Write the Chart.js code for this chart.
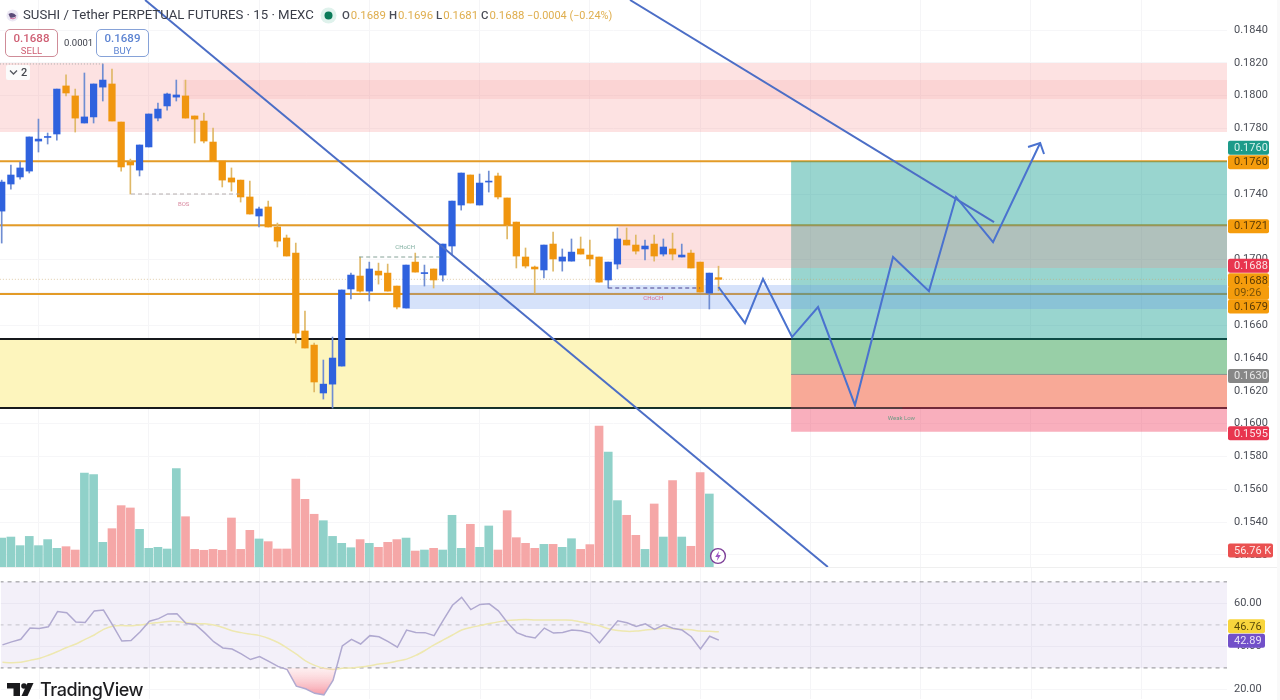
<!DOCTYPE html>
<html>
<head>
<meta charset="utf-8">
<title>SUSHI / Tether PERPETUAL FUTURES</title>
<script src="https://cdn.jsdelivr.net/npm/chart.js@4/dist/chart.umd.js"></script>
<style>
  html, body { margin: 0; padding: 0; background: #fff; }
  #stage { position: relative; width: 1280px; height: 700px; overflow: hidden; font-family: Roboto, sans-serif; }
  canvas { position: absolute; left: 0; }
  .abs { position: absolute; white-space: nowrap; }
  #title { left: 23px; top: 7px; font-size: 13.2px; line-height: 16px; color: #3a3d48; }
  .ohlc { top: 8px; font-size: 11.4px; line-height: 15px; color: #dfae4e; }
  .ohlc b { font-weight: 500; color: #4a4d58; margin-right: 1px; }
  .trade { top: 29px; height: 26px; width: 51px; border-radius: 5px; background: #fff; text-align: center; border: 1px solid; }
  .trade div:first-child { font-size: 11.5px; line-height: 14px; font-weight: 500; margin-top: 1px; }
  .trade div:last-child { font-size: 9.5px; line-height: 11px; }
  #sep { left: 0; top: 567px; width: 1280px; height: 1px; background: #efefef; }
  #edge { left: 1277px; top: 0; width: 3px; height: 700px; background: #f9f9f9; }
</style>
</head>
<body>
<div id="stage">
  <canvas id="priceChart" width="1280" height="567" style="top:0"></canvas>
  <canvas id="rsiChart" width="1280" height="133" style="top:567px"></canvas>
  <div class="abs" id="sep"></div>
  <div class="abs" id="edge"></div>

  <svg class="abs" style="left:5px;top:8px" width="15" height="15" viewBox="0 0 15 15">
    <circle cx="7.5" cy="7.5" r="6" fill="#ece8f4"/>
    <path d="M3.5 6 Q8 3 11.5 8 Q8 10.5 5 9.5 Z" fill="#5b4a78"/>
    <path d="M5 10 Q8 12 11 9.5" stroke="#d06a9c" fill="none"/>
  </svg>
  <div class="abs" id="title">SUSHI / Tether PERPETUAL FUTURES · 15 · MEXC</div>
  <svg class="abs" style="left:320px;top:7px" width="17" height="17">
    <circle cx="8.5" cy="8.5" r="8" fill="#dff2ec"/>
    <circle cx="8.5" cy="8.5" r="4" fill="#0b7a58"/>
  </svg>
  <div class="abs ohlc" style="left:342px"><b>O</b>0.1689</div>
  <div class="abs ohlc" style="left:389px"><b>H</b>0.1696</div>
  <div class="abs ohlc" style="left:436px"><b>L</b>0.1681</div>
  <div class="abs ohlc" style="left:481px"><b>C</b>0.1688</div>
  <div class="abs ohlc" style="left:527px;font-size:10.9px">−0.0004 (−0.24%)</div>

  <div class="abs trade" style="left:5px;border-color:#cf8c98;color:#cf5f74"><div>0.1688</div><div>SELL</div></div>
  <div class="abs" style="left:64px;top:37px;font-size:9.5px;line-height:12px;color:#3a3d48">0.0001</div>
  <div class="abs trade" style="left:96px;border-color:#86a2d8;color:#5d84d2"><div>0.1689</div><div>BUY</div></div>

  <div class="abs" style="left:6px;top:65px;width:24px;height:15px;background:#fbfbfb;border-radius:2px"></div>
  <svg class="abs" style="left:9px;top:69px" width="9" height="7"><path d="M1 1.5 L4.5 5 L8 1.5" stroke="#55585f" stroke-width="1.3" fill="none"/></svg>
  <div class="abs" style="left:21px;top:65px;font-size:11px;line-height:15px;font-weight:500;color:#44474e">2</div>

  <svg class="abs" style="left:709px;top:547px" width="18" height="18" viewBox="0 0 18 18">
    <circle cx="9" cy="9" r="7.4" fill="#fff" stroke="#7d3f98" stroke-width="1.4"/>
    <path d="M10 4 L6.2 10 H8.8 L7.8 14 L11.8 8 H9.2 Z" fill="#9b54c4"/>
  </svg>

  <svg class="abs" style="left:7px;top:683px" width="27" height="14" viewBox="0 0 27 14">
    <path d="M0 0 H13 V13 H6.5 V5.5 H0 Z" fill="#1a1a1d"/>
    <circle cx="17" cy="3" r="2.8" fill="#1a1a1d"/>
    <path d="M20.5 0 H26.5 L20.5 13 H14.5 Z" fill="#1a1a1d"/>
  </svg>
  <div class="abs" style="left:40px;top:679px;font-size:18px;line-height:22px;font-weight:500;color:#1d1d20;font-family:Inter,Roboto,sans-serif;letter-spacing:-0.45px">TradingView</div>
</div>

<script>
// Fifteen-minute candles, oldest first.
const opens = [
  .17296,.17461,.17504,.17540,.17723,.17745,.17766,.18059,.17998,.17833,
  .17870,.18052,.18071,.17839,.17595,.17546,.17687,.17863,.17937,.17991,
  .17998,.17876,.17845,.17717,.17601,.17498,.17485,.17382,.17266,.17321,
  .17199,.17132,.17040,.16565,.16479,.16187,.16241,.16351,.16821,.16900,
  .16808,.16930,.16918,.16839,.16705,.16985,.16915,.16943,.16906,.17083,
  .17333,.17516,.17333,.17473,.17510,.17376,.17229,.17016,.16955,.16937,
  .17095,.16991,.16991,.17065,.17028,.17016,.16876,.16973,.17119,.17089,
  .17065,.17095,.17034,.17065,.17016,.17040,.16985,.16796,.1689];
const closes = [
  .17473,.17516,.17559,.17748,.17735,.17751,.18040,.18016,.17863,.17870,
  .18071,.18095,.17845,.17565,.17577,.17699,.17888,.17918,.18010,.18004,
  .17863,.17857,.17723,.17601,.17485,.17473,.17382,.17278,.17309,.17199,
  .17113,.17022,.16552,.16461,.16254,.16241,.16400,.16815,.16906,.16808,
  .16943,.16906,.16808,.16711,.16967,.16924,.16921,.16876,.17095,.17357,
  .17528,.17345,.17467,.17479,.17382,.17211,.17022,.16961,.16943,.17089,
  .17004,.17016,.17046,.17034,.17004,.16863,.16985,.17126,.17089,.17052,
  .17083,.17022,.17077,.17034,.17028,.16949,.16802,.16918,.1688];
const highs = [
  .17485,.17577,.17595,.17748,.17857,.17772,.18040,.18126,.18040,.18138,
  .18071,.18193,.18162,.17839,.17613,.17699,.17888,.17955,.18016,.18095,
  .18095,.17876,.17894,.17802,.17601,.17559,.17485,.17479,.17321,.17357,
  .17223,.17150,.17101,.16687,.16491,.16388,.16528,.16815,.16918,.17016,
  .16985,.16979,.16973,.16839,.16967,.17040,.16967,.16943,.17095,.17357,
  .17528,.17516,.17522,.17540,.17528,.17376,.17229,.17071,.16961,.17089,
  .17168,.17065,.17126,.17138,.17119,.17016,.16985,.17193,.17193,.17150,
  .17119,.17150,.17126,.17162,.17095,.17058,.16985,.16918,.1696];
const lows = [
  .17101,.17430,.17491,.17528,.17656,.17705,.17729,.17998,.17778,.17833,
  .17833,.17967,.17845,.17540,.17400,.17510,.17687,.17845,.17912,.17967,
  .17863,.17711,.17711,.17601,.17443,.17418,.17351,.17278,.17199,.17199,
  .17077,.17022,.16491,.16461,.16193,.16150,.16095,.16351,.16760,.16802,
  .16748,.16851,.16808,.16699,.16705,.16924,.16839,.16827,.16869,.17028,
  .17302,.17345,.17333,.17412,.17370,.17126,.16949,.16949,.16796,.16888,
  .16930,.16930,.16991,.17034,.16961,.16863,.16827,.16943,.17089,.17034,
  .16998,.16991,.17022,.16998,.17016,.16949,.16802,.16699,.1681];

// Volume per candle, in thousands.
const volumes = [
  22.5,23.3,16.6,23.8,16.6,21.3,14.5,15.8,13.2,73.1,
  71.8,19.2,29.8,47.7,45.9,29.3,14.5,15.3,14.0,76.5,
  39.1,13.7,13.0,13.7,13.0,38.1,13.7,28.5,21.8,19.7,
  14.0,14.0,68.4,52.6,41.0,36.0,23.8,18.4,15.0,21.3,
  18.4,15.3,19.2,21.3,22.5,12.4,13.2,14.5,13.2,40.2,
  14.5,33.2,15.3,31.9,13.2,43.8,22.8,18.4,14.5,17.6,
  17.6,15.3,22.0,13.7,17.4,109.6,89.4,51.6,40.2,24.6,
  13.7,49.0,23.3,67.1,23.3,16.1,73.4,56.76,null];

// RSI and its moving average.
const rsiValues = [
  40.7,42.1,43.3,48.5,48.3,49.1,56.2,55.6,51.3,51.1,
  56.5,56.9,49.9,42.5,42.7,46.8,51.7,52.9,55.1,55.2,
  50.6,50.2,46.4,42.2,39.3,38.8,36.5,33.9,35.3,33.0,
  30.7,29.2,21.5,20.3,18.2,17.5,24.3,40.2,43.3,41.1,
  45.0,44.5,42.2,39.6,47.6,46.5,46.4,45.0,52.2,59.1,
  62.8,57.1,59.5,59.8,56.5,51.0,46.4,44.7,43.9,48.5,
  46.2,46.5,47.6,47.3,46.2,41.6,46.8,51.9,51.0,49.3,
  50.5,47.9,50.0,48.4,47.6,44.5,38.8,44.7,42.89];
const rsiAverage = [
  32.6,32.4,32.6,33.5,34.4,35.9,37.6,39.5,41.1,43.3,
  45.3,47.9,49.4,49.7,49.6,50.0,50.6,51.1,51.6,51.6,
  51.1,50.6,50.5,49.9,48.8,47.3,46.4,45.7,45.0,43.7,
  41.8,39.2,36.4,33.3,31.2,29.8,29.3,29.8,30.0,30.4,
  31.0,31.8,32.3,33.2,34.1,35.8,38.1,40.7,43.0,45.3,
  47.6,48.8,49.7,50.6,51.4,52.0,52.3,52.5,52.3,52.3,
  52.3,52.3,52.2,51.3,50.5,49.6,48.2,47.4,47.0,47.1,
  47.6,48.0,48.4,48.2,48.0,47.7,47.1,47.0,46.76];

const priceTicks = [.184,.182,.18,.178,.176,.174,.172,.17,.168,.166,.164,.162,.16,.158,.156,.154,.152];
const rsiTicks = [60,40,20];
const timeGrid = [4,16,28,40,52,64,76,88,100,112,124];

// Horizontal levels, in price.
const resistanceLevels = [.1760,.1721,.1679];
const zoneLevels = [.16516,.16095];
const lastPrice = .1688;

// Supply and demand zones: [from bar, top price, bottom price].
const supplyZone = [-0.2,.18199,.17778];
const supplyCore = [19.7,.18095,.17979];
const orderBlock = [67.1,.1721,.16949];
const demandZone = [43.9,.16845,.16699];
const discountZone = [-0.2,.16516,.16095];

// Long position tool: bar where it starts, target, entry, stop.
const positionStart = 85.9;
const targetPrice = .1760, entryPrice = .1630, stopPrice = .1595;

// Trend lines and the projected route: [bar, price] pairs.
const fallingLineA = [[15.6,.18583],[89.9,.15126]];
const fallingLineB = [[68.37,.18583],[107.98,.17229]];
const projectedPath = [[78,.16833],[80.88,.16613],[82.84,.16882],[86,.16528],[88.83,.16711],
  [92.85,.16113],[96.99,.17016],[100.9,.16808],[103.84,.17382],[107.87,.17107],[113,.17711]];
const pathArrow = [[111.68,.17687],[113,.17711],[113.42,.17644]];

// Market structure breaks: [from bar, to bar, price].
const bosBreak = [14.07,25.9,.17400];
const chochUp = [38.9,48,.17016];
const chochDown = [66,76,.16827];
const sweptHigh = [-0.2,11,.18193];
const weakLowLine = [36,98,.16095];

const noteTexts = ['BOS','CHoCH','CHoCH','Weak Low'];
const noteBars = [19.8,43.9,70.9,97.9];
const notePrices = [.17339,.17077,.16766,.16034];

// Axis tags on the price pane.
const priceTagTexts = ['0.1760','0.1760','0.1721','0.1688','0.1688','09:26','0.1679','0.1630','0.1595'];
const priceTagValues = [.1760,.1760,.1721,.1688,.1688,.1688,.1679,.1630,.1595];
const volumeTagText = '56.76 K';
const volumeTagValue = 56.76;
const rsiTagTexts = ['46.76','42.89'];
const rsiTagValues = [46.76,42.89];

const X_MIN = -0.185, X_MAX = 133.33;
const AXIS_FONT = { family: 'Roboto, sans-serif', size: 11 };
const BLUE = '#2f62de', ORANGE = '#f0960f', TEAL_VOL = '#90d1c9', RED_VOL = '#f5a7a7';

const isUp = i => closes[i] >= opens[i];
const pairs = list => list.map(([x, y]) => ({ x, y }));

// Datasets are listed bottom to top; the negative order keeps that stacking.
function layered(list) {
  list.forEach((d, i) => { d.order = -i; });
  return list;
}
function band([from, top, bottom], color, to = X_MAX + 1) {
  return { type: 'line', data: [{ x: from, y: top }, { x: to, y: top }], fill: { value: bottom },
           backgroundColor: color, borderWidth: 0, pointRadius: 0, yAxisID: 'y' };
}
function line(points, color, width, dash) {
  return { type: 'line', data: points, borderColor: color, borderWidth: width, borderDash: dash || [],
           pointRadius: 0, tension: 0, fill: false, yAxisID: 'y' };
}
function level(price, color, width, dash, from = -0.2) {
  return line([{ x: from, y: price }, { x: X_MAX + 1, y: price }], color, width, dash);
}
function segment([from, to, price], color, width, dash) {
  return line([{ x: from, y: price }, { x: to, y: price }], color, width, dash);
}
function xScale() {
  return {
    type: 'linear', min: X_MIN, max: X_MAX, offset: false,
    afterBuildTicks: s => { s.ticks = timeGrid.map(value => ({ value })); },
    ticks: { display: false, autoSkip: false },
    grid: { color: '#f5f5f7', drawTicks: false, offset: false }, border: { display: false }
  };
}
function rightAxis(min, max, values, format) {
  return {
    position: 'right', min, max,
    afterBuildTicks: s => { s.ticks = values.map(value => ({ value })); },
    // The plot runs to the top and bottom edges of its canvas; labels keep no extra margin.
    afterFit: s => { s.width = 53; s.paddingTop = 0; s.paddingBottom = 0; },
    ticks: { callback: format, font: AXIS_FONT, color: '#4b4e57', padding: 7, autoSkip: false, maxRotation: 0 },
    grid: { color: '#f6f6f8', drawTicks: false }, border: { display: false }
  };
}
function drawTag(chart, text, y, width, fill, ink) {
  const c = chart.ctx, left = chart.chartArea.right + 1;
  c.save();
  c.fillStyle = fill;
  c.beginPath();
  c.roundRect(left, y - 7, width, 14, 2);
  c.fill();
  c.fillStyle = ink;
  c.font = '11px Roboto, sans-serif';
  c.textAlign = 'left';
  c.textBaseline = 'middle';
  c.fillText(text, left + 6, y + 0.5);
  c.restore();
}

const priceAnnotations = {
  id: 'priceAnnotations',
  afterDraw(chart) {
    const y = chart.scales.y, x = chart.scales.x, c = chart.ctx;
    c.save();
    c.font = '6px Roboto, sans-serif';
    c.textAlign = 'center';
    c.textBaseline = 'middle';
    const noteInks = ['#d98aa0','#7fae9f','#d76f98','#6f9a85'];
    noteTexts.forEach((t, i) => {
      c.fillStyle = noteInks[i];
      c.fillText(t, x.getPixelForValue(noteBars[i]), y.getPixelForValue(notePrices[i]));
    });
    c.restore();

    // Colour and offset of each tag; close prices stack instead of overlapping.
    const looks = [['#1d9b8a','#d8f3ee',-13.5],['#f59c0c','#5a3a04',1],['#f59c0c','#5a3a04',1],
                   ['#e8354f','#fbe3e6',-13.5],['#f59c0c','#5a3a04',1],['#f59c0c','#7a5208',13.5],
                   ['#f59c0c','#5a3a04',12.5],['#878787','#e8e8e8',1.5],['#e8354f','#fbe3e6',1.5]];
    priceTagTexts.forEach((t, i) => {
      const [fill, ink, shift] = looks[i];
      drawTag(chart, t, y.getPixelForValue(priceTagValues[i]) + shift, 41, fill, ink);
    });
    drawTag(chart, volumeTagText, chart.scales.vol.getPixelForValue(volumeTagValue) + 56.5, 45, '#ea5050', '#fde8e8');
  }
};

const rsiAnnotations = {
  id: 'rsiAnnotations',
  afterDraw(chart) {
    const y = chart.scales.y;
    drawTag(chart, rsiTagTexts[0], y.getPixelForValue(rsiTagValues[0]) - 5.5, 37, '#f8d53c', '#5a4a08');
    drawTag(chart, rsiTagTexts[1], y.getPixelForValue(rsiTagValues[1]) + 0.5, 37, '#7250c9', '#e8e2f8');
  }
};

const bars = opens.map((_, i) => i);

new Chart(document.getElementById('priceChart'), {
  data: {
    datasets: layered([
      band(discountZone, '#fdf5bd'),
      band(supplyZone, 'rgba(245,130,130,0.23)'),
      band(supplyCore, 'rgba(240,130,130,0.14)'),
      ...resistanceLevels.map(p => level(p, '#e39b27', 2)),
      level(zoneLevels[0], '#17191c', 2),
      level(zoneLevels[1], '#17191c', 2),
      band([positionStart, targetPrice, entryPrice], 'rgba(0,150,136,0.4)'),
      band([positionStart, entryPrice, stopPrice], 'rgba(240,64,98,0.42)'),
      band(orderBlock, 'rgba(245,130,130,0.25)'),
      band(demandZone, 'rgba(90,140,235,0.25)'),
      level(entryPrice, '#8e948f', 1, [], positionStart),
      level(lastPrice, 'rgba(196,160,100,0.55)', 1, [1, 2]),
      segment(weakLowLine, 'rgba(20,110,80,0.6)', 1),
      {
        type: 'bar', yAxisID: 'vol', grouped: false, barPercentage: 1, categoryPercentage: 1, maxBarThickness: 8,
        data: bars.map(i => ({ x: i, y: volumes[i] })),
        backgroundColor: bars.map(i => isUp(i) ? TEAL_VOL : RED_VOL), borderWidth: 0
      },
      {
        type: 'bar', yAxisID: 'y', grouped: false, barPercentage: 1, categoryPercentage: 1, maxBarThickness: 1,
        data: bars.map(i => ({ x: i, y: [lows[i], highs[i]] })),
        backgroundColor: bars.map(i => isUp(i) ? '#6f8dd2' : '#dfb867'), borderWidth: 0
      },
      {
        type: 'bar', yAxisID: 'y', grouped: false, barPercentage: 1, categoryPercentage: 1, maxBarThickness: 6.6,
        data: bars.map(i => ({ x: i, y: [Math.min(opens[i], closes[i]), Math.max(opens[i], closes[i])] })),
        backgroundColor: bars.map(i => isUp(i) ? BLUE : ORANGE), borderWidth: 0
      },
      segment(bosBreak, '#b4acac', 1, [4, 3]),
      segment(chochUp, '#86a298', 1, [4, 3]),
      segment(chochDown, '#46408e', 1, [4, 3]),
      segment(sweptHigh, '#a8a8a8', 1, [1, 2]),
      line(pairs(fallingLineA), '#4c6ec6', 2),
      line(pairs(fallingLineB), '#4c6ec6', 2),
      line(pairs(projectedPath), '#4a72cf', 2),
      line(pairs(pathArrow), '#4a72cf', 2)
    ])
  },
  options: {
    responsive: false, animation: false, devicePixelRatio: 1,
    layout: { padding: 0 },
    plugins: { legend: { display: false }, tooltip: { enabled: false } },
    events: [],
    scales: {
      x: xScale(),
      y: rightAxis(.15126, .18583, priceTicks, v => v.toFixed(4)),
      vol: { display: false, min: 0, max: 440.8 }
    }
  },
  plugins: [priceAnnotations]
});

const rsiChart = new Chart(document.getElementById('rsiChart'), {
  data: {
    datasets: layered([
      { type: 'line', data: [{ x: X_MIN - 1, y: 70 }, { x: X_MAX + 1, y: 70 }], fill: { value: 30 },
        backgroundColor: 'rgba(126,87,194,0.09)', borderWidth: 0, pointRadius: 0 },
      { type: 'line', data: [{ x: X_MIN - 1, y: 70 }, { x: X_MAX + 1, y: 70 }], borderColor: '#8f8f92', borderWidth: 1, borderDash: [4, 4], pointRadius: 0 },
      { type: 'line', data: [{ x: X_MIN - 1, y: 50 }, { x: X_MAX + 1, y: 50 }], borderColor: '#c4c2ca', borderWidth: 1, borderDash: [4, 4], pointRadius: 0 },
      { type: 'line', data: [{ x: X_MIN - 1, y: 30 }, { x: X_MAX + 1, y: 30 }], borderColor: '#8f8f92', borderWidth: 1, borderDash: [4, 4], pointRadius: 0 },
      { type: 'line', data: bars.map(i => ({ x: i, y: rsiAverage[i] })), borderColor: '#eee8b0', borderWidth: 1.5, pointRadius: 0, tension: 0.3, fill: false },
      { type: 'line', data: bars.map(i => ({ x: i, y: rsiValues[i] })), borderColor: '#b0a9d0', borderWidth: 1.5, pointRadius: 0, tension: 0,
        fill: { target: { value: 30 }, above: 'rgba(0,0,0,0)', below: 'rgba(245,150,160,0.6)' } }
    ])
  },
  options: {
    responsive: false, animation: false, devicePixelRatio: 1,
    layout: { padding: 0 },
    plugins: { legend: { display: false }, tooltip: { enabled: false } },
    events: [],
    scales: {
      x: xScale(),
      y: rightAxis(15.44, 76.55, rsiTicks, v => v.toFixed(2))
    }
  },
  plugins: [rsiAnnotations]
});

// The oversold wash fades out towards the 30 level.
const rsiY = rsiChart.scales.y;
const wash = rsiChart.ctx.createLinearGradient(0, rsiY.getPixelForValue(30), 0, rsiY.getPixelForValue(17));
wash.addColorStop(0, 'rgba(250,190,195,0.25)');
wash.addColorStop(1, 'rgba(245,130,145,0.85)');
rsiChart.data.datasets[5].fill.below = wash;
rsiChart.update('none');
</script>
</body>
</html>
